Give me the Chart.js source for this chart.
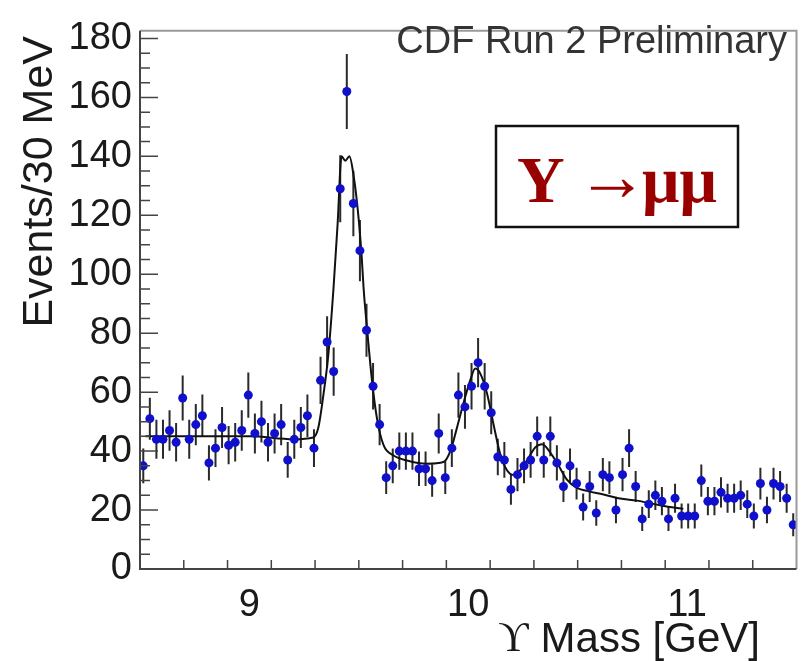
<!DOCTYPE html>
<html>
<head>
<meta charset="utf-8">
<script src="https://cdn.jsdelivr.net/npm/chart.js@4.4.1/dist/chart.umd.min.js"></script>
<style>
    html, body { margin: 0; padding: 0; background: #fff; }
    #wrap { width: 801px; height: 661px; }
</style>
</head>
<body>
<div id="wrap"><canvas id="plot" width="801" height="661"></canvas></div>
<script>
// bin centres, 30 MeV bins from 8.5 to 11.5 GeV
const binMass = [
    8.515, 8.545, 8.575, 8.605, 8.635, 8.665, 8.695, 8.725, 8.755, 8.785,
    8.815, 8.845, 8.875, 8.905, 8.935, 8.965, 8.995, 9.025, 9.055, 9.085,
    9.115, 9.145, 9.175, 9.205, 9.235, 9.265, 9.295, 9.325, 9.355, 9.385,
    9.415, 9.445, 9.475, 9.505, 9.535, 9.565, 9.595, 9.625, 9.655, 9.685,
    9.715, 9.745, 9.775, 9.805, 9.835, 9.865, 9.895, 9.925, 9.955, 9.985,
    10.015, 10.045, 10.075, 10.105, 10.135, 10.165, 10.195, 10.225, 10.255, 10.285,
    10.315, 10.345, 10.375, 10.405, 10.435, 10.465, 10.495, 10.525, 10.555, 10.585,
    10.615, 10.645, 10.675, 10.705, 10.735, 10.765, 10.795, 10.825, 10.855, 10.885,
    10.915, 10.945, 10.975, 11.005, 11.035, 11.065, 11.095, 11.125, 11.155, 11.185,
    11.215, 11.245, 11.275, 11.305, 11.335, 11.365, 11.395, 11.425, 11.455, 11.485
];

// events per bin
const binEvents = [
    35, 51, 44, 44, 47, 43, 58, 44, 49, 52,
    36, 41, 48, 42, 43, 47, 59, 46, 50, 43,
    46, 49, 37, 44, 48, 52, 41, 64, 77, 67,
    129, 162, 124, 108, 81, 62, 49, 31, 35, 40,
    40, 40, 34, 34, 30, 46, 31, 41, 59, 55,
    62, 70, 62, 53, 38, 37, 27, 32, 35, 37,
    45, 37, 45, 36, 28, 35, 29, 21, 28, 19,
    32, 31, 20, 32, 41, 28, 17, 22, 25, 23,
    17, 24, 18, 18, 18, 30, 23, 23, 26, 24,
    24, 25, 22, 18, 29, 20, 29, 28, 24, 15
];

// fit curve
const fitMass = [
    8.525, 8.776, 9.0, 9.201, 9.292, 9.315, 9.338, 9.361, 9.384, 9.403,
    9.421, 9.438, 9.457, 9.475, 9.495, 9.513, 9.522, 9.537, 9.56, 9.583,
    9.613, 9.659, 9.72, 9.811, 9.887, 9.918, 9.948, 9.979, 10.009, 10.032,
    10.055, 10.085, 10.116, 10.146, 10.177, 10.207, 10.237, 10.268, 10.306, 10.337,
    10.374, 10.412, 10.451, 10.496, 10.542, 10.618, 10.694, 10.77, 10.846, 10.922,
    10.983
];
const fitEvents = [
    45, 45, 45, 44, 44.6, 48, 59, 73, 95, 117,
    140, 138.5, 140, 134, 122, 106, 95, 82, 64, 51,
    42, 38.5, 36.8, 35.7, 36.3, 40, 47.8, 56.5, 64, 68,
    66.3, 59.8, 48.9, 39, 33.5, 31.9, 33.5, 36.8, 41.2, 42.3,
    39.6, 35.2, 30.3, 27.5, 26.5, 25.3, 23.9, 23.2, 22.1, 21,
    20.4
];

const xTicks = [9, 10, 11];
const yTicks = [0, 20, 40, 60, 80, 100, 120, 140, 160, 180];

const sans = "'Liberation Sans', Arial, Helvetica, sans-serif";
const serif = "'Liberation Serif', 'Times New Roman', serif";

// error bars, frame, inward ticks and the text labels, ROOT style
const rootStyle = {
    id: 'rootStyle',
    beforeDatasetsDraw(chart) {
        const ctx = chart.ctx;
        const xs = chart.scales.x, ys = chart.scales.y;
        ctx.save();
        ctx.strokeStyle = '#2a2a2a';
        ctx.lineWidth = 2;
        ctx.beginPath();
        binEvents.forEach((n, i) => {
            const err = Math.sqrt(n);
            const px = xs.getPixelForValue(binMass[i]);
            ctx.moveTo(px, ys.getPixelForValue(n + err));
            ctx.lineTo(px, ys.getPixelForValue(n - err));
        });
        ctx.stroke();
        ctx.restore();
    },
    afterDraw(chart) {
        const ctx = chart.ctx;
        const a = chart.chartArea;
        const xs = chart.scales.x, ys = chart.scales.y;
        ctx.save();

        // frame
        ctx.lineWidth = 2;
        ctx.strokeStyle = '#9a9a9a';
        ctx.beginPath();
        ctx.moveTo(a.left, a.top);
        ctx.lineTo(a.right, a.top);
        ctx.lineTo(a.right, a.bottom);
        ctx.stroke();
        ctx.strokeStyle = '#444';
        ctx.beginPath();
        ctx.moveTo(a.left, a.top);
        ctx.lineTo(a.left, a.bottom);
        ctx.lineTo(a.right, a.bottom);
        ctx.stroke();

        // ticks pointing into the plot
        ctx.lineWidth = 1.5;
        ctx.strokeStyle = '#444';
        ctx.beginPath();
        for (let v = 0; v <= 180; v += 5) {
            const py = ys.getPixelForValue(v);
            const len = v % 20 === 0 ? 18 : 10;
            ctx.moveTo(a.left, py);
            ctx.lineTo(a.left + len, py);
        }
        for (let k = 1; k <= 14; k++) {
            const v = 8.5 + k * 0.2;
            const px = xs.getPixelForValue(v);
            const major = Math.abs(v - Math.round(v)) < 1e-6;
            ctx.moveTo(px, a.bottom);
            ctx.lineTo(px, a.bottom - (major ? 17 : 9));
        }
        ctx.stroke();

        // axis titles
        ctx.fillStyle = '#1a1a1a';
        ctx.font = '42px ' + sans;
        ctx.textBaseline = 'middle';
        ctx.textAlign = 'right';
        ctx.fillText('Mass [GeV]', 760, 640);
        const w = ctx.measureText('Mass [GeV]').width;
        ctx.font = '42px ' + serif;
        ctx.fillText('\u03D2', 760 - w - 12, 640);

        ctx.save();
        ctx.translate(40, 36);
        ctx.rotate(-Math.PI / 2);
        ctx.font = '43px ' + sans;
        ctx.textAlign = 'right';
        ctx.fillText('Events/30 MeV', 0, 0);
        ctx.restore();

        // experiment label
        ctx.fillStyle = '#333';
        ctx.font = '38px ' + sans;
        ctx.textAlign = 'right';
        ctx.fillText('CDF Run 2 Preliminary', 787, 43);

        // decay box
        ctx.fillStyle = '#fff';
        ctx.fillRect(496, 126, 242, 101);
        ctx.strokeStyle = '#111';
        ctx.lineWidth = 2.5;
        ctx.strokeRect(496, 126, 242, 101);
        ctx.fillStyle = '#990000';
        ctx.textAlign = 'left';
        ctx.textBaseline = 'alphabetic';
        ctx.font = 'bold 66px ' + serif;
        ctx.fillText('\u03A5', 517, 202);
        ctx.font = '72px ' + serif;
        ctx.fillText('\u2192', 576, 200);
        ctx.font = 'bold 66px ' + serif;
        ctx.fillText('\u03BC\u03BC', 642, 202);

        ctx.restore();
    }
};

new Chart(document.getElementById('plot'), {
    type: 'scatter',
    data: {
        datasets: [
            {
                label: 'data',
                data: binMass.map((m, i) => ({x: m, y: binEvents[i]})),
                backgroundColor: '#1010cc',
                borderWidth: 0,
                pointRadius: 4.5,
                order: 1
            },
            {
                label: 'fit',
                data: fitMass.map((m, i) => ({x: m, y: fitEvents[i]})),
                showLine: true,
                borderColor: '#111',
                borderWidth: 2,
                pointRadius: 0,
                cubicInterpolationMode: 'monotone',
                order: 2
            }
        ]
    },
    options: {
        responsive: false,
        animation: false,
        layout: { padding: { top: 12, right: 4, left: 0, bottom: 0 } },
        plugins: {
            legend: { display: false },
            tooltip: { enabled: false }
        },
        scales: {
            x: {
                type: 'linear',
                min: 8.5,
                max: 11.5,
                afterBuildTicks: s => { s.ticks = xTicks.map(v => ({value: v})); },
                afterFit: s => { s.height = 92; },
                grid: { display: false, drawTicks: false },
                border: { display: false },
                ticks: {
                    padding: 14,
                    color: '#1a1a1a',
                    font: { family: sans, size: 38 }
                }
            },
            y: {
                min: 0,
                max: 182.6,
                afterBuildTicks: s => { s.ticks = yTicks.map(v => ({value: v})); },
                afterFit: s => { s.width = 140; },
                grid: { display: false, drawTicks: false },
                border: { display: false },
                ticks: {
                    padding: 8,
                    color: '#1a1a1a',
                    font: { family: sans, size: 38 }
                }
            }
        }
    },
    plugins: [rootStyle]
});
</script>
</body>
</html>
